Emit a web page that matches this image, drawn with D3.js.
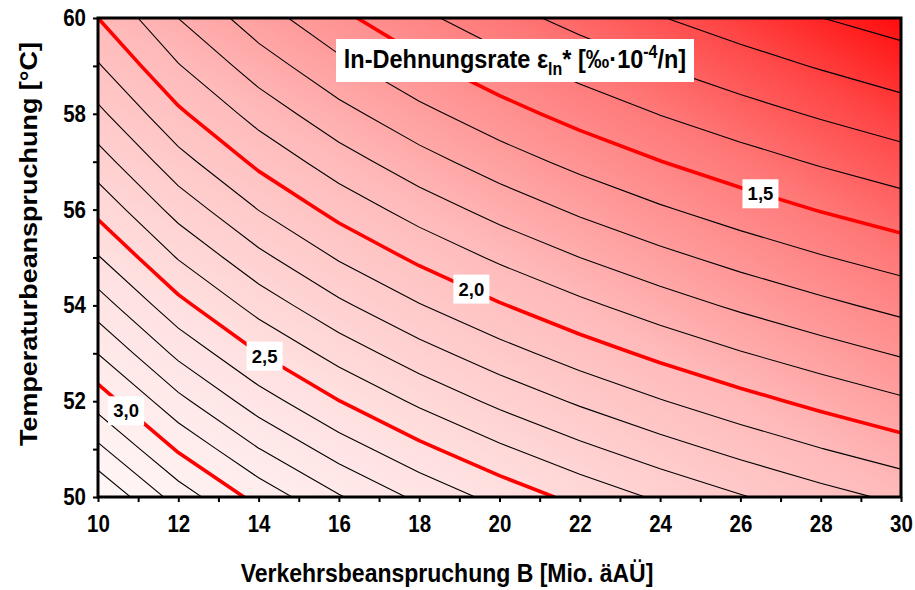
<!DOCTYPE html>
<html>
<head>
<meta charset="utf-8">
<script src="https://cdn.jsdelivr.net/npm/d3@7"></script>
<style>
    body { margin: 0; background: #ffffff; }
    svg text { font-family: Arial, "Liberation Sans", sans-serif; font-weight: bold; fill: #000; }
</style>
</head>
<body>
<div id="chart"></div>
<script>

// == DATA == //
// grid columns: Verkehrsbeanspruchung B [Mio. äAÜ]
const trafficLoad = [10, 12, 14, 16, 18, 20, 22, 24, 26, 28, 30];
// grid rows: Temperaturbeanspruchung [°C]
const temperature = [50, 51, 52, 53, 54, 55, 56, 57, 58, 59, 60];
// ln-Dehnungsrate, one row per temperature
const strainRate = [
    [3.398, 3.156, 2.965, 2.809, 2.678, 2.566, 2.469, 2.384, 2.308, 2.239, 2.178],
    [3.223, 2.988, 2.803, 2.652, 2.526, 2.418, 2.324, 2.242, 2.169, 2.103, 2.044],
    [3.056, 2.828, 2.648, 2.502, 2.380, 2.275, 2.185, 2.106, 2.035, 1.972, 1.915],
    [2.898, 2.676, 2.501, 2.359, 2.240, 2.139, 2.051, 1.974, 1.906, 1.845, 1.790],
    [2.749, 2.531, 2.360, 2.221, 2.106, 2.008, 1.923, 1.848, 1.782, 1.724, 1.670],
    [2.607, 2.393, 2.226, 2.090, 1.978, 1.882, 1.800, 1.728, 1.664, 1.607, 1.556],
    [2.472, 2.262, 2.098, 1.965, 1.855, 1.762, 1.682, 1.612, 1.550, 1.495, 1.446],
    [2.345, 2.137, 1.976, 1.846, 1.739, 1.648, 1.570, 1.502, 1.442, 1.389, 1.341],
    [2.224, 2.019, 1.860, 1.733, 1.628, 1.539, 1.463, 1.397, 1.339, 1.288, 1.241],
    [2.109, 1.906, 1.750, 1.625, 1.522, 1.436, 1.362, 1.298, 1.242, 1.192, 1.147],
    [2.000, 1.799, 1.645, 1.523, 1.422, 1.338, 1.266, 1.204, 1.149, 1.101, 1.058]
];
const thinLevels = [1.0, 1.1, 1.2, 1.3, 1.4, 1.6, 1.7, 1.8, 1.9, 2.1, 2.2, 2.3, 2.4,
                    2.6, 2.7, 2.8, 2.9, 3.1, 3.2, 3.3, 3.4];
const boldLevels = [1.5, 2.0, 2.5, 3.0];
const boldLabels = ["1,5", "2,0", "2,5", "3,0"];
// where the level labels sit (B, T)
const labelB = [26.5, 19.3, 14.15, 10.7];
const labelT = [56.33, 54.34, 52.94, 51.8];

const xTicks = d3.range(10, 31, 1);
const yTicks = d3.range(50, 61, 1);

// text in the original is a bit stretched vertically
const stretch = 1.13;

// == SVG == //
const margin = {top: 18, right: 14, bottom: 93, left: 98};
const width = 915 - margin.left - margin.right;
const height = 590 - margin.top - margin.bottom;

const svg = d3.select("#chart").append("svg")
    .attr("width", 915)
    .attr("height", 590);

const g = svg.append("g")
    .attr("transform", `translate(${margin.left}, ${margin.top})`);

const x = d3.scaleLinear().domain([10, 30]).range([0, width]);
const y = d3.scaleLinear().domain([50, 60]).range([height, 0]);

// background gradient white -> red
const defs = svg.append("defs");
const grad = defs.append("linearGradient")
    .attr("id", "bg-gradient")
    .attr("x1", "0%").attr("y1", "100%")
    .attr("x2", "100%").attr("y2", "0%");
[[0, "#fff7f7"], [0.25, "#ffe0e0"], [0.5, "#ffbaba"], [0.75, "#ff7878"], [0.88, "#ff4646"], [1, "#ff0c0c"]]
    .forEach(s => grad.append("stop").attr("offset", s[0]).attr("stop-color", s[1]));

defs.append("clipPath").attr("id", "plot-clip")
    .append("rect").attr("width", width).attr("height", height);

g.append("rect")
    .attr("width", width)
    .attr("height", height)
    .attr("fill", "url(#bg-gradient)");

// == CONTOURS == //
const nx = trafficLoad.length, ny = temperature.length;
const gridValues = strainRate.flat();
// d3.contours puts grid value i at i + 0.5
const gx = d3.scaleLinear().domain([0.5, nx - 0.5]).range([trafficLoad[0], trafficLoad[nx - 1]]);
const gy = d3.scaleLinear().domain([0.5, ny - 0.5]).range([temperature[0], temperature[ny - 1]]);
const path = d3.geoPath(d3.geoTransform({
    point: function(px, py) { this.stream.point(x(gx(px)), y(gy(py))); }
}));

const contourGroup = g.append("g").attr("clip-path", "url(#plot-clip)");

contourGroup.selectAll(".thin")
    .data(d3.contours().size([nx, ny]).thresholds(thinLevels)(gridValues))
    .enter().append("path")
    .attr("class", "thin")
    .attr("d", path)
    .attr("fill", "none")
    .attr("stroke", "#000")
    .attr("stroke-width", 1.1);

contourGroup.selectAll(".bold")
    .data(d3.contours().size([nx, ny]).thresholds(boldLevels)(gridValues))
    .enter().append("path")
    .attr("class", "bold")
    .attr("d", path)
    .attr("fill", "none")
    .attr("stroke", "#ff0000")
    .attr("stroke-width", 3.6)
    .attr("stroke-linejoin", "round");

// level labels
boldLabels.forEach((lab, i) => {
    const lg = g.append("g")
        .attr("transform", `translate(${x(labelB[i])}, ${y(labelT[i])})`);
    lg.append("rect")
        .attr("x", -18).attr("y", -14.5)
        .attr("width", 36).attr("height", 29)
        .attr("fill", "#fff");
    lg.append("text")
        .attr("text-anchor", "middle")
        .attr("dy", "0.36em")
        .style("font-size", "18.5px")
        .text(lab);
});

// == TITLE BOX == //
g.append("rect")
    .attr("x", 238).attr("y", 21)
    .attr("width", 358).attr("height", 43)
    .attr("fill", "#fff");
const tt = g.append("text")
    .attr("transform", `translate(${238 + 179}, ${50}) scale(1, ${stretch})`)
    .attr("text-anchor", "middle")
    .style("font-size", "23.5px");
tt.append("tspan").text("ln-Dehnungsrate ε");
tt.append("tspan").attr("dy", 6).style("font-size", "16px").text("ln");
tt.append("tspan").attr("dy", -6).text("* [‰·10");
tt.append("tspan").attr("dy", -9).style("font-size", "16px").text("-4");
tt.append("tspan").attr("dy", 9).text("/n]");

// == AXES == //
const xAxis = d3.axisBottom(x)
    .tickValues(xTicks)
    .tickSize(5)
    .tickFormat(d => d % 2 === 0 ? d : "");
const yAxis = d3.axisLeft(y)
    .tickValues(yTicks)
    .tickSize(5)
    .tickPadding(7)
    .tickFormat(d => d % 2 === 0 ? d : "");

const xg = g.append("g")
    .attr("transform", `translate(0, ${height})`)
    .call(xAxis);
const yg = g.append("g").call(yAxis);

[xg, yg].forEach(a => {
    a.select(".domain").remove();
    a.selectAll(".tick line").attr("stroke", "#000").attr("stroke-width", 2);
    a.selectAll(".tick text")
        .style("font-size", "20.5px")
        .style("font-family", "Arial, 'Liberation Sans', sans-serif")
        .attr("transform", `scale(1, ${stretch})`);
});
xg.selectAll(".tick text").attr("y", 19 / stretch);

// plot frame
g.append("rect")
    .attr("width", width)
    .attr("height", height)
    .attr("fill", "none")
    .attr("stroke", "#000")
    .attr("stroke-width", 3);

// axis titles
svg.append("text")
    .attr("transform", `translate(447, 582) scale(1, ${stretch})`)
    .attr("text-anchor", "middle")
    .style("font-size", "23px")
    .text("Verkehrsbeanspruchung B [Mio. äAÜ]");

svg.append("text")
    .attr("transform", `translate(37, 244) rotate(-90) scale(1.1, 1)`)
    .attr("text-anchor", "middle")
    .style("font-size", "24.5px")
    .text("Temperaturbeanspruchung [°C]");

</script>
</body>
</html>
